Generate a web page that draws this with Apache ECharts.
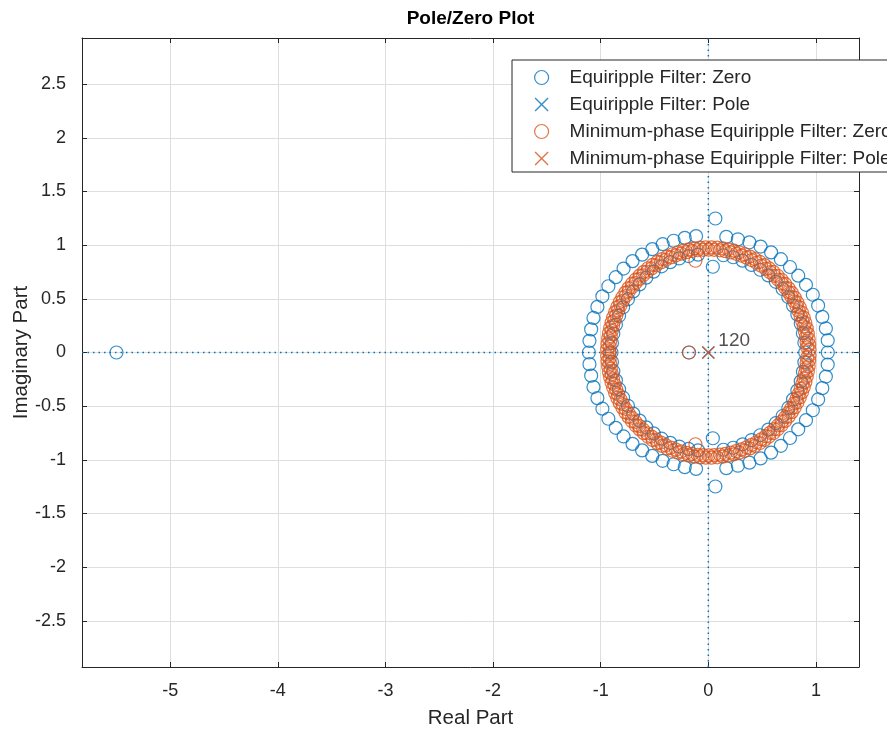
<!DOCTYPE html>
<html><head><meta charset="utf-8">
<script src="https://cdn.jsdelivr.net/npm/echarts@6/dist/echarts.min.js"></script>
<style>html,body{margin:0;padding:0;background:#fff}#c{width:887px;height:732px}</style>
</head><body><div id="c"></div>
<script>
// ---- tick labels ----
const xTicks = [-5, -4, -3, -2, -1, 0, 1];
const yTicks = [-2.5, -2, -1.5, -1, -0.5, 0, 0.5, 1, 1.5, 2, 2.5];
const xRange = [-5.82, 1.40];
const yRange = [-2.93, 2.93];

// ---- Equiripple filter zeros (upper half-plane, polar: magnitude, angle in degrees); conjugates mirrored ----
const blueRingDeg = [0, 5.8, 11.6, 17.4, 23.2, 29.0, 34.8, 40.6, 46.4, 52.2, 58.0, 63.8, 69.6, 75.4, 81.2, 87.0,
  96.0, 101.6, 107.2, 112.8, 118.4, 124.0, 129.6, 135.2, 140.8, 146.4, 152.0, 157.6, 163.2, 168.8, 174.4, 180];
const blueOuterMag = [1.11, 1.115, 1.115, 1.11, 1.11, 1.11, 1.105, 1.10, 1.10, 1.10, 1.10, 1.10, 1.095, 1.09, 1.09, 1.25,
  1.09, 1.09, 1.09, 1.095, 1.095, 1.10, 1.105, 1.11, 1.11, 1.115, 1.115, 1.115, 1.115, 1.11, 1.11, 1.11];
const blueInnerMag = [0.90, 0.897, 0.897, 0.90, 0.90, 0.90, 0.905, 0.909, 0.909, 0.909, 0.909, 0.909, 0.913, 0.917, 0.917, 0.80,
  0.917, 0.917, 0.917, 0.913, 0.913, 0.909, 0.905, 0.90, 0.90, 0.897, 0.897, 0.897, 0.897, 0.90, 0.90, 0.90];
const blueRealZeros = [-5.5, -0.18];

// ---- Minimum-phase equiripple filter zeros (dense band: two interleaved rings) ----
const orangeRingDeg = [1.5, 4.6, 7.7, 10.8, 13.9, 17.0, 20.1, 23.2, 26.3, 29.4, 32.5, 35.6, 38.7, 41.8, 44.9, 48.0,
  51.1, 54.2, 57.3, 60.4, 63.5, 66.6, 69.7, 72.8, 75.9, 79.0, 82.1, 85.2, 88.3, 91.4, 94.5, 97.6, 100.7, 103.8,
  106.9, 110.0, 113.1, 116.2, 119.3, 122.4, 125.5, 128.6, 131.7, 134.8, 137.9, 141.0, 144.1, 147.2, 150.3, 153.4,
  156.5, 159.6, 162.7, 165.8, 168.9, 172.0, 175.1, 178.2];
const orangeRingMag = [0.940, 0.940, 0.941, 0.941, 0.942, 0.943, 0.944, 0.946, 0.948, 0.950, 0.952, 0.954, 0.956, 0.958,
  0.960, 0.962, 0.964, 0.966, 0.968, 0.970, 0.972, 0.974, 0.976, 0.977, 0.978, 0.979, 0.980, 0.980, 0.980, 0.980,
  0.980, 0.979, 0.978, 0.977, 0.976, 0.974, 0.972, 0.970, 0.968, 0.966, 0.964, 0.962, 0.960, 0.958, 0.956, 0.954,
  0.952, 0.950, 0.948, 0.946, 0.944, 0.943, 0.942, 0.941, 0.941, 0.940, 0.940, 0.940];
const orangeRing2Deg = [3.0, 6.1, 9.2, 12.3, 15.4, 18.5, 21.6, 24.7, 27.8, 30.9, 34.0, 37.1, 40.2, 43.3, 46.4, 49.5,
  52.6, 55.7, 58.8, 61.9, 65.0, 68.1, 71.2, 74.3, 77.4, 80.5, 83.6, 86.7, 89.8, 92.9, 96.0, 99.1, 102.2, 105.3,
  108.4, 111.5, 114.6, 117.7, 120.8, 123.9, 127.0, 130.1, 133.2, 136.3, 139.4, 142.5, 145.6, 148.7, 151.8, 154.9,
  158.0, 161.1, 164.2, 167.3, 170.4, 173.5, 176.6, 179.7];
const orangeRing2Mag = [0.918, 0.918, 0.919, 0.919, 0.920, 0.921, 0.922, 0.924, 0.926, 0.928, 0.930, 0.932, 0.934, 0.936,
  0.938, 0.940, 0.942, 0.944, 0.946, 0.948, 0.950, 0.952, 0.954, 0.955, 0.956, 0.957, 0.958, 0.958, 0.958, 0.958,
  0.958, 0.957, 0.956, 0.955, 0.954, 0.952, 0.950, 0.948, 0.946, 0.944, 0.942, 0.940, 0.938, 0.936, 0.934, 0.932,
  0.930, 0.928, 0.926, 0.924, 0.922, 0.921, 0.920, 0.919, 0.919, 0.918, 0.918, 0.918];
const orangeExtraMag = [0.863];
const orangeExtraDeg = [98];
const orangeRealZeros = [-0.18];

// ---- poles ----
const bluePoles = [[0, 0]];
const orangePoles = [[0, 0]];
const poleMultiplicity = '120';

function polarPairs(mags, degs) {
  const out = [];
  for (let i = 0; i < mags.length; i++) {
    const a = degs[i] * Math.PI / 180;
    const x = mags[i] * Math.cos(a), y = mags[i] * Math.sin(a);
    out.push([x, y]);
    if (degs[i] !== 0 && degs[i] !== 180) out.push([x, -y]);
  }
  return out;
}
const blueZeros = [].concat(
  polarPairs(blueOuterMag, blueRingDeg),
  polarPairs(blueInnerMag, blueRingDeg),
  blueRealZeros.map(v => [v, 0])
);
const orangeZeros = [].concat(
  polarPairs(orangeRingMag, orangeRingDeg),
  polarPairs(orangeRing2Mag, orangeRing2Deg),
  polarPairs(orangeExtraMag, orangeExtraDeg),
  orangeRealZeros.map(v => [v, 0])
);

const BLUE = '#0072BD', ORANGE = '#D95319', INK = '#262626', GRID = '#dedede';
const FONT = '"Liberation Sans", Arial, Helvetica, sans-serif';
const XPATH = 'path://M0,1.4L1.4,0L10,8.6L18.6,0L20,1.4L11.4,10L20,18.6L18.6,20L10,11.4L1.4,20L0,18.6L8.6,10Z';
const circStyle = c => ({ color: 'rgba(0,0,0,0)', borderColor: c, borderWidth: 1.2 });

const axisCommon = {
  type: 'value',
  axisLine: { show: true, onZero: false, lineStyle: { color: INK, width: 1 } },
  axisTick: { show: true, inside: true, length: 5, lineStyle: { color: INK } },
  splitLine: { show: false }
};

const chart = echarts.init(document.getElementById('c'), null, { renderer: 'canvas' });
chart.setOption({
  animation: false,
  backgroundColor: '#fff',
  textStyle: { fontFamily: FONT },
  grid: { left: 82, right: 28, top: 38, bottom: 65, outerBoundsMode: 'none', containLabel: false },
  graphic: [{
    type: 'text', x: 470.5, y: 19,
    style: { text: 'Pole/Zero Plot', textAlign: 'center', textVerticalAlign: 'middle',
      font: 'bold 19px ' + FONT, fill: '#000' }
  }],
  xAxis: [
    Object.assign({}, axisCommon, {
      min: xRange[0], max: xRange[1], position: 'bottom',
      axisTick: Object.assign({}, axisCommon.axisTick, { customValues: xTicks }),
      axisLabel: { customValues: xTicks, fontSize: 18, color: INK, margin: 15, fontFamily: FONT },
      splitLine: { show: true, lineStyle: { color: GRID, width: 1 } },
      name: 'Real Part', nameLocation: 'middle', nameGap: 41, nameMoveOverlap: false,
      nameTextStyle: { fontSize: 20.5, color: INK, fontFamily: FONT }
    }),
    Object.assign({}, axisCommon, {
      min: xRange[0], max: xRange[1], position: 'top',
      axisTick: Object.assign({}, axisCommon.axisTick, { customValues: xTicks }),
      axisLabel: { show: false }
    })
  ],
  yAxis: [
    Object.assign({}, axisCommon, {
      min: yRange[0], max: yRange[1], position: 'left',
      axisTick: Object.assign({}, axisCommon.axisTick, { customValues: yTicks }),
      axisLabel: { customValues: yTicks, fontSize: 18, color: INK, margin: 16, fontFamily: FONT },
      splitLine: { show: true, lineStyle: { color: GRID, width: 1 } },
      name: 'Imaginary Part', nameLocation: 'middle', nameGap: 50, nameMoveOverlap: false,
      nameTextStyle: { fontSize: 20.5, color: INK, fontFamily: FONT }
    }),
    Object.assign({}, axisCommon, {
      min: yRange[0], max: yRange[1], position: 'right',
      axisTick: Object.assign({}, axisCommon.axisTick, { customValues: yTicks }),
      axisLabel: { show: false }
    })
  ],
  legend: {
    orient: 'vertical', left: 512, top: 60,
    padding: [8, 20, 4, 22], itemWidth: 46, itemHeight: 14, itemGap: 8,
    borderColor: INK, borderWidth: 1, backgroundColor: '#fff',
    textStyle: { fontSize: 19, color: INK, fontFamily: FONT, lineHeight: 19 },
    selectedMode: false,
    data: [
      { name: 'Equiripple Filter: Zero', icon: 'circle', itemStyle: circStyle(BLUE) },
      { name: 'Equiripple Filter: Pole', icon: XPATH, itemStyle: { color: BLUE, borderWidth: 0 } },
      { name: 'Minimum-phase Equiripple Filter: Zero', icon: 'circle', itemStyle: circStyle(ORANGE) },
      { name: 'Minimum-phase Equiripple Filter: Pole', icon: XPATH, itemStyle: { color: ORANGE, borderWidth: 0 } }
    ]
  },
  series: [
    { type: 'line', name: 'xaxisline', silent: true, symbol: 'none', z: 1,
      data: [[xRange[0], 0], [xRange[1], 0]],
      lineStyle: { color: BLUE, width: 1.5, type: [1.5, 4] } },
    { type: 'line', name: 'yaxisline', silent: true, symbol: 'none', z: 1,
      data: [[0, yRange[0]], [0, yRange[1]]],
      lineStyle: { color: BLUE, width: 1.5, type: [1.5, 4] } },
    { type: 'scatter', name: 'Equiripple Filter: Zero', silent: true, z: 2,
      symbol: 'circle', symbolSize: 13, itemStyle: circStyle(BLUE), data: blueZeros },
    { type: 'scatter', name: 'Equiripple Filter: Pole', silent: true, z: 3,
      symbol: XPATH, symbolSize: 13, itemStyle: { color: BLUE }, data: bluePoles },
    { type: 'scatter', name: 'Minimum-phase Equiripple Filter: Zero', silent: true, z: 4,
      symbol: 'circle', symbolSize: 13, itemStyle: circStyle(ORANGE), data: orangeZeros },
    { type: 'scatter', name: 'Minimum-phase Equiripple Filter: Pole', silent: true, z: 5,
      symbol: XPATH, symbolSize: 13, itemStyle: { color: ORANGE }, data: orangePoles,
      label: { show: true, formatter: poleMultiplicity, position: [16.5, -15], align: 'left', verticalAlign: 'top',
        fontSize: 19, color: INK, fontFamily: FONT } }
  ]
});
</script>
</body></html>
